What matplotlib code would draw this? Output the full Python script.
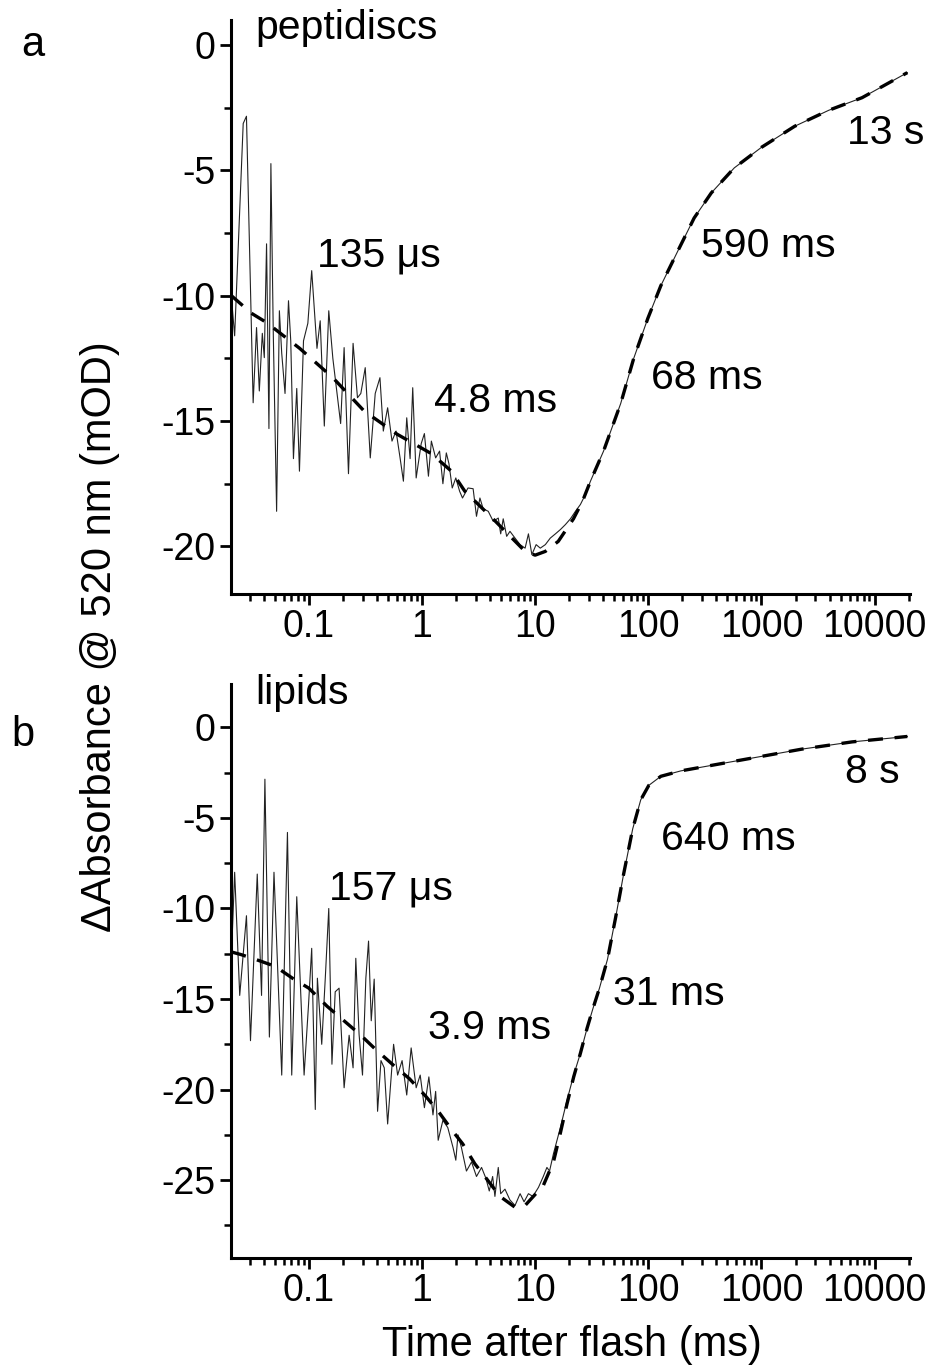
import matplotlib
matplotlib.use("Agg")
import matplotlib.pyplot as plt
from matplotlib.ticker import FixedLocator, FixedFormatter, LogLocator, MultipleLocator, NullFormatter

plt.rcParams['font.family'] = ['Liberation Sans', 'DejaVu Sans']
plt.rcParams['axes.unicode_minus'] = False

# ---- panel a: peptidiscs (time in ms, dA in mOD) ----
pep_t = [0.0207, 0.0221, 0.0263, 0.0281, 0.0322, 0.0345, 0.0365, 0.0388, 0.0404, 0.0423,
         0.0444, 0.0462, 0.0485, 0.0519, 0.0549, 0.0576, 0.0616, 0.0661, 0.0692, 0.0731,
         0.0782, 0.0826, 0.0897, 0.098, 0.106, 0.118, 0.126, 0.137, 0.150, 0.163,
         0.191, 0.205, 0.224, 0.246, 0.269, 0.288, 0.315, 0.349, 0.386, 0.425,
         0.455, 0.497, 0.543, 0.590, 0.640, 0.685, 0.733, 0.785, 0.828, 0.888,
         0.984, 1.05, 1.14, 1.21, 1.32, 1.43, 1.53, 1.64, 1.73, 1.85,
         1.99, 2.15, 2.28, 2.55, 2.83, 3.03, 3.25, 3.47, 3.85, 4.26,
         4.72, 4.96, 5.22, 5.60, 5.99, 6.64, 7.36, 8.15, 8.72, 9.35,
         10.2, 11.1, 12.3, 13.6, 15.1, 16.7, 18.5, 20.5, 22.7, 25.1,
         27.8, 30.8, 40.2, 57.0, 74.3, 99.1, 129, 183, 254, 360,
         575, 1000, 1965, 3940, 7740, 19450]
pep_y = [-10.07, -11.6, -3.13, -2.84, -14.27, -11.27, -13.8, -11.5, -12.47, -7.93,
         -15.3, -4.73, -11.5, -18.6, -10.6, -12.3, -13.9, -10.2, -11.8, -16.5,
         -13.7, -17.0, -11.8, -11.1, -9.0, -12.1, -11.0, -15.2, -10.6, -12.5,
         -15.1, -12.07, -17.1, -11.9, -14.07, -13.9, -12.87, -16.47, -13.9, -13.27,
         -15.4, -14.47, -15.8, -15.4, -16.47, -17.4, -14.87, -16.5, -13.67, -17.27,
         -15.9, -15.5, -17.2, -15.8, -16.47, -16.2, -17.5, -16.27, -16.7, -17.67,
         -17.27, -17.8, -18.07, -17.67, -17.7, -18.8, -18.07, -18.5, -18.6, -19.0,
         -18.87, -19.5, -18.9, -19.6, -19.4, -19.67, -19.93, -20.07, -19.5, -20.33,
         -19.93, -20.07, -19.93, -19.67, -19.5, -19.33, -19.13, -18.9, -18.6, -18.33,
         -17.93, -17.4, -16.2, -14.3, -12.5, -10.9, -9.6, -8.2, -6.9, -5.9,
         -4.9, -4.08, -3.24, -2.6, -2.1, -1.1]

pep_fit_t = [0.0207, 0.0311, 0.0423, 0.083, 0.163, 0.308, 0.605, 1.21, 1.82, 2.39,
             4.24, 8.15, 10.0, 12.3, 16.0, 21.8, 26.2, 30.8, 40.2, 57.0, 74.3,
             99.1, 129, 183, 254, 360, 575, 1000, 1965, 3940, 7740, 19450]
pep_fit_y = [-10.0, -10.7, -11.07, -12.1, -13.27, -14.6, -15.53, -16.3, -17.0, -17.8,
             -18.9, -20.2, -20.35, -20.2, -19.8, -18.9, -18.2, -17.4, -16.2, -14.3, -12.5,
             -10.9, -9.6, -8.2, -6.9, -5.9, -4.9, -4.08, -3.24, -2.6, -2.1, -1.1]

# ---- panel b: lipids ----
lip_t = [0.0203, 0.0211, 0.0221, 0.0245, 0.0281, 0.0305, 0.035, 0.0382, 0.0409, 0.0448,
         0.0492, 0.0576, 0.0647, 0.0706, 0.0782, 0.0908, 0.0994, 0.106, 0.114, 0.119,
         0.130, 0.140, 0.150, 0.160, 0.171, 0.185, 0.205, 0.227, 0.246, 0.260,
         0.278, 0.298, 0.319, 0.337, 0.356, 0.378, 0.405, 0.434, 0.464, 0.497,
         0.561, 0.609, 0.667, 0.733, 0.802, 0.888, 0.964, 1.05, 1.15, 1.25,
         1.32, 1.39, 1.53, 1.69, 1.88, 1.99, 2.08, 2.23, 2.47, 2.74,
         3.03, 3.36, 3.67, 3.93, 4.21, 4.41, 4.72, 4.96, 5.41, 5.99,
         6.64, 7.36, 7.98, 8.72, 9.55, 10.7, 11.8, 12.7, 13.4, 14.5,
         16.7, 19.1, 21.9, 25.1, 28.8, 32.5, 37.0, 43.6, 51.4, 60.5, 72.8,
         85.7, 101, 129, 194, 441, 1000, 2270, 6310, 19450]
lip_y = [-14.4, -11.3, -8.0, -14.8, -10.4, -17.3, -8.1, -14.8, -2.86, -17.1,
         -8.0, -19.2, -5.8, -19.2, -9.35, -19.2, -15.3, -12.2, -21.1, -13.85,
         -17.5, -13.75, -10.0, -18.6, -14.6, -14.4, -19.9, -17.0, -18.8, -12.75,
         -16.96, -19.2, -13.85, -11.8, -16.2, -13.9, -21.2, -18.4, -18.8, -21.9,
         -17.5, -19.2, -18.4, -20.3, -17.7, -19.9, -19.2, -21.0, -19.3, -21.4,
         -20.1, -22.8, -21.7, -22.1, -23.2, -23.9, -22.5, -23.2, -24.5, -24.0,
         -24.8, -24.3, -24.9, -25.6, -24.8, -25.9, -24.3, -25.75, -25.5, -26.1,
         -26.4, -25.75, -26.2, -25.75, -25.9, -25.4, -24.8, -24.3, -24.5, -23.55,
         -22.1, -20.6, -19.2, -18.0, -16.6, -15.5, -14.4, -12.8, -10.5, -8.1, -5.6,
         -4.0, -3.2, -2.7, -2.4, -2.0, -1.6, -1.2, -0.8, -0.5]

lip_fit_t = [0.0207, 0.0253, 0.0372, 0.0506, 0.0736, 0.100, 0.145, 0.196, 0.288, 0.392,
             0.570, 0.774, 1.09, 1.43, 1.87, 2.29, 2.93, 3.59, 4.89, 6.64,
             8.15, 11.8, 14.5, 16.7, 19.1, 21.9, 25.1, 28.8, 32.5, 37.0, 43.6, 51.4, 60.5,
             72.8, 85.7, 101, 129, 194, 441, 1000, 2270, 6310, 19450]
lip_fit_y = [-12.4, -12.55, -12.9, -13.2, -13.9, -14.4, -15.4, -16.1, -17.0, -17.8,
             -18.7, -19.4, -20.4, -21.3, -22.3, -23.0, -24.1, -24.8, -25.9, -26.5,
             -26.4, -25.3, -24.0, -22.4, -20.8, -19.3, -18.0, -16.6, -15.5, -14.4, -12.8, -10.5, -8.1,
             -5.6, -4.0, -3.2, -2.7, -2.4, -2.0, -1.6, -1.2, -0.8, -0.5]

x_ticks = [0.1, 1, 10, 100, 1000, 10000]
x_tick_labels = ['0.1', '1', '10', '100', '1000', '10000']

pep_notes = [('peptidiscs', 0.0338, 0.68), ('135 \u03bcs', 0.118, -8.4), ('4.8 ms', 1.265, -14.2),
             ('68 ms', 105, -13.3), ('590 ms', 293, -8.0), ('13 s', 5700, -3.52)]
lip_notes = [('lipids', 0.0338, 1.9), ('157 \u03bcs', 0.151, -8.9), ('3.9 ms', 1.12, -16.6),
             ('31 ms', 48.3, -14.7), ('640 ms', 129, -6.15), ('8 s', 5470, -2.47)]

TICK_FS = 27
NOTE_FS = 29.5
LABEL_FS = 30

fig = plt.figure(figsize=(9.4, 13.69), dpi=100)
ax_a = fig.add_axes([0.2457, 0.5661, 0.7223, 0.4193])
ax_b = fig.add_axes([0.2457, 0.0811, 0.7223, 0.4193])


def style(ax, ylim, yticks):
    ax.set_xscale('log')
    ax.set_xlim(0.0205, 20500)
    ax.set_ylim(*ylim)
    ax.xaxis.set_major_locator(FixedLocator(x_ticks))
    ax.xaxis.set_major_formatter(FixedFormatter(x_tick_labels))
    ax.xaxis.set_minor_locator(LogLocator(base=10, subs=range(2, 10), numticks=20))
    ax.xaxis.set_minor_formatter(NullFormatter())
    ax.yaxis.set_major_locator(FixedLocator(yticks))
    ax.yaxis.set_minor_locator(MultipleLocator(2.5))
    for s in ['top', 'right']:
        ax.spines[s].set_visible(False)
    for s in ['left', 'bottom']:
        ax.spines[s].set_linewidth(2.2)
    ax.tick_params(which='major', length=8, width=2, labelsize=TICK_FS, pad=3)
    ax.tick_params(which='minor', length=5, width=1.8)


def draw(ax, t, y, ft, fy, notes):
    ax.plot(t, y, color='#222222', lw=0.8)
    ax.plot(ft, fy, color='black', lw=2.4, dashes=(4.5, 3.5))
    for txt, x, yy in notes:
        ax.text(x, yy, txt, fontsize=NOTE_FS, ha='left', va='center')


style(ax_a, (-21.9, 1.0), [0, -5, -10, -15, -20])
draw(ax_a, pep_t, pep_y, pep_fit_t, pep_fit_y, pep_notes)
style(ax_b, (-29.3, 2.4), [0, -5, -10, -15, -20, -25])
draw(ax_b, lip_t, lip_y, lip_fit_t, lip_fit_y, lip_notes)

fig.text(33 / 940, 1 - 45 / 1369, 'a', fontsize=LABEL_FS, ha='center', va='center')
fig.text(23 / 940, 1 - 735 / 1369, 'b', fontsize=LABEL_FS, ha='center', va='center')
fig.text(100 / 940, 1 - 637 / 1369, '\u0394Absorbance @ 520 nm (mOD)', fontsize=LABEL_FS,
         rotation=90, ha='center', va='center')
fig.text(572 / 940, 1 - 1345 / 1369, 'Time after flash (ms)', fontsize=LABEL_FS,
         ha='center', va='center')

fig.savefig('out.png', dpi=100)
